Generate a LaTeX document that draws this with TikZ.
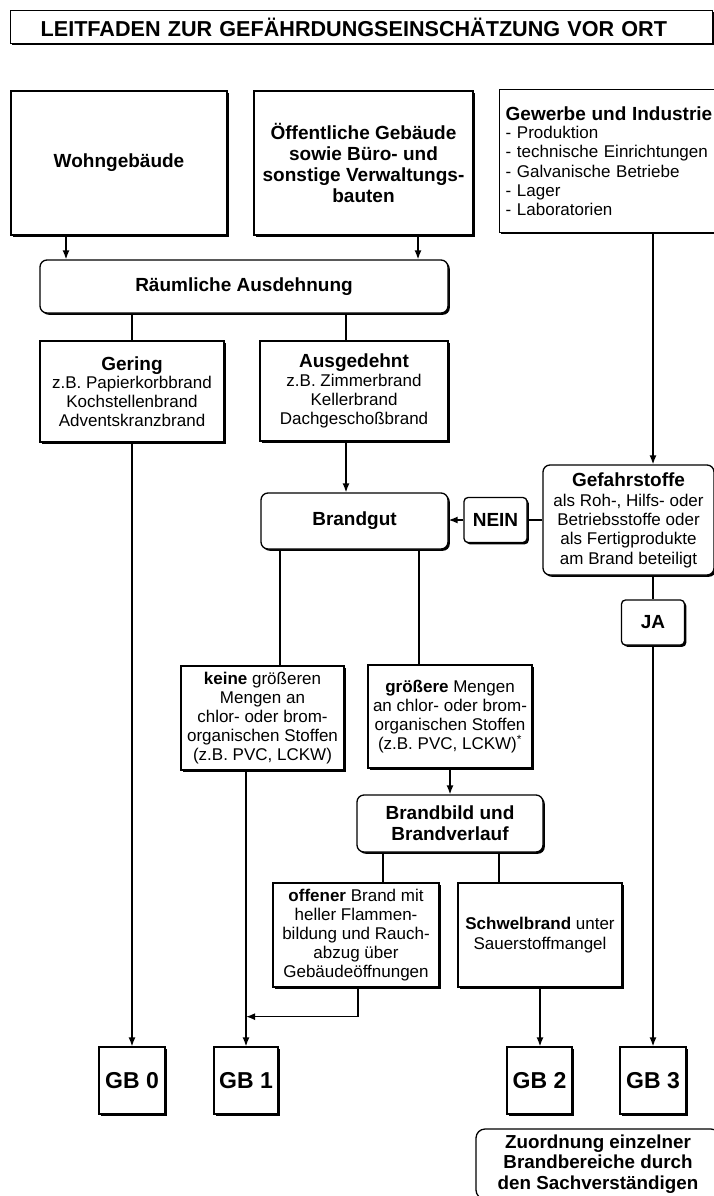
\documentclass[tikz,border=0pt]{standalone}
\usepackage{fontspec}
\setmainfont{Liberation Sans}
\usetikzlibrary{arrows.meta,shadows,calc}
\newcommand{\rg}{\fontsize{17}{19.2}\selectfont}
\newcommand{\bh}{\fontsize{19}{21}\selectfont\bfseries}
\tikzset{
  box/.style={draw, fill=white, line width=1.3pt, inner sep=0pt, align=center,
    drop shadow={shadow xshift=1.8pt, shadow yshift=-1.8pt, opacity=1, fill=black}},
  rbox/.style={box, rounded corners=7pt},
  sbox/.style={box, rounded corners=4pt},
  gbbox/.style={box, minimum width=65pt, minimum height=67pt, font=\fontsize{23}{25}\selectfont\bfseries},
  line/.style={line width=1.4pt},
  arr/.style={line width=1.4pt, -{Latex[length=9pt,width=7pt]}},
}
\begin{document}
\begin{tikzpicture}[x=1pt,y=-1pt]
\useasboundingbox (0,0) rectangle (713,1196);
% title
\node[box, anchor=north west, minimum height=33pt, text width=642pt, inner xsep=30pt, align=left,
  font=\fontsize{21.6}{24}\selectfont\bfseries] (title) at (10,10) {LEITFADEN ZUR GEFÄHRDUNGSEINSCHÄTZUNG VOR ORT};
% top row
\node[box, minimum width=216pt, minimum height=144pt, font=\bh] (wohn) at (119,163) {Wohngebäude};
\node[box, minimum width=219pt, minimum height=144pt, font=\bh] (oeff) at (363.5,163) {Öffentliche Gebäude\\sowie Büro- und\\sonstige Verwaltungs-\\bauten};
\node[box, anchor=north west, minimum width=230pt, minimum height=143pt, text width=218pt, inner xsep=6pt, align=left, font=\rg] (gew) at (499,89)
  {{\bh Gewerbe und Industrie}\\[-1pt]- Produktion\\- technische Einrichtungen\\- Galvanische Betriebe\\- Lager\\- Laboratorien};
% Raeumliche
\node[rbox, minimum width=408pt, minimum height=53pt, font=\bh] (raum) at (244,286.5) {Räumliche Ausdehnung};
\node[box, minimum width=184pt, minimum height=101pt, font=\rg] (gering) at (132,391.5)
  {{\bh Gering}\\[-1pt]z.B. Papierkorbbrand\\Kochstellenbrand\\Adventskranzbrand};
\node[box, minimum width=188pt, minimum height=100pt, font=\rg] (ausg) at (354,391)
  {{\bh Ausgedehnt}\\[-1pt]z.B. Zimmerbrand\\Kellerbrand\\Dachgeschoßbrand};
% Brandgut row
\node[rbox, minimum width=187pt, minimum height=56pt, font=\bh] (brandgut) at (354.5,521) {Brandgut};
\node[sbox, minimum width=63pt, minimum height=45pt, font=\bh] (nein) at (495.5,520) {NEIN};
\node[rbox, minimum width=171pt, minimum height=110pt, font=\rg] (gefahr) at (628.5,520)
  {{\bh Gefahrstoffe}\\[1pt]als Roh-, Hilfs- oder\\Betriebsstoffe oder\\als Fertigprodukte\\am Brand beteiligt};
\node[sbox, minimum width=63pt, minimum height=45pt, font=\bh] (ja) at (653,622.5) {JA};
% Stoffe
\node[box, minimum width=163pt, minimum height=104pt, font=\rg] (keine) at (262.5,718)
  {\textbf{keine} größeren\\Mengen an\\chlor- oder brom-\\organischen Stoffen\\(z.B. PVC, LCKW)};
\node[box, minimum width=164pt, minimum height=103pt, font=\rg] (groesser) at (450,716.5)
  {\textbf{größere} Mengen\\an chlor- oder brom-\\organischen Stoffen\\(z.B. PVC, LCKW)\textsuperscript{*}};
\node[rbox, minimum width=186pt, minimum height=57pt, font=\bh] (brandbild) at (450,823.5) {Brandbild und\\Brandverlauf};
\node[box, minimum width=166pt, minimum height=104pt, font=\rg] (offen) at (356,935)
  {\textbf{offener} Brand mit\\heller Flammen-\\bildung und Rauch-\\abzug über\\Gebäudeöffnungen};
\node[box, minimum width=164pt, minimum height=104pt, font=\rg] (schwel) at (540,935)
  {\textbf{Schwelbrand} unter\\Sauerstoffmangel};
% GB boxes
\node[gbbox, minimum width=66pt] (gb0) at (132,1080.5) {GB 0};
\node[gbbox, minimum width=64pt] (gb1) at (246,1080.5) {GB 1};
\node[gbbox] (gb2) at (539.5,1080.5) {GB 2};
\node[gbbox, minimum width=66pt] (gb3) at (653,1080.5) {GB 3};
\node[rbox, rounded corners=9pt, minimum width=244pt, minimum height=70pt, font=\fontsize{18.8}{20.5}\selectfont\bfseries] (zuord) at (598,1164)
  {Zuordnung einzelner\\Brandbereiche durch\\den Sachverständigen};
% connectors
\draw[arr] ([xshift=-53pt]wohn.south) -- ([xshift=-53pt]wohn.south |- raum.north);
\draw[arr] ([xshift=54.5pt]oeff.south) -- ([xshift=54.5pt]oeff.south |- raum.north);
\draw[line] (gering.north |- raum.south) -- (gering.north);
\draw[line] ([xshift=-8pt]ausg.north |- raum.south) -- ([xshift=-8pt]ausg.north);
\draw[arr] ([xshift=-8pt]ausg.south) -- ([xshift=-8pt]ausg.south |- brandgut.north);
\draw[arr] (ja.north |- gew.south) -- (ja.north |- gefahr.north);
\draw[line] (gefahr.west |- nein.east) -- (nein.east);
\draw[arr] (nein.west) -- (nein.west -| brandgut.east);
\draw[line] (ja.north |- gefahr.south) -- (ja.north);
\draw[arr] (ja.south) -- (ja.south |- gb3.north);
\draw[arr] (gering.south) -- (gering.south |- gb0.north);
\draw[line] ([xshift=-74.5pt]brandgut.south) -- ([xshift=-74.5pt]brandgut.south |- keine.north);
\draw[line] ([xshift=64.5pt]brandgut.south) -- ([xshift=64.5pt]brandgut.south |- groesser.north);
\draw[arr] (gb1.north |- keine.south) -- (gb1.north);
\draw[arr] (groesser.south) -- (groesser.south |- brandbild.north);
\draw[line] ([xshift=-67pt]brandbild.south) -- ([xshift=-67pt]brandbild.south |- offen.north);
\draw[line] ([xshift=49pt]brandbild.south) -- ([xshift=49pt]brandbild.south |- schwel.north);
\coordinate (m) at ($(offen.south)+(2,29)$);
\draw[arr] ([xshift=2pt]offen.south) -- (m) -- (m -| gb1.north);
\draw[arr] (schwel.south) -- (schwel.south |- gb2.north);
\end{tikzpicture}
\end{document}
